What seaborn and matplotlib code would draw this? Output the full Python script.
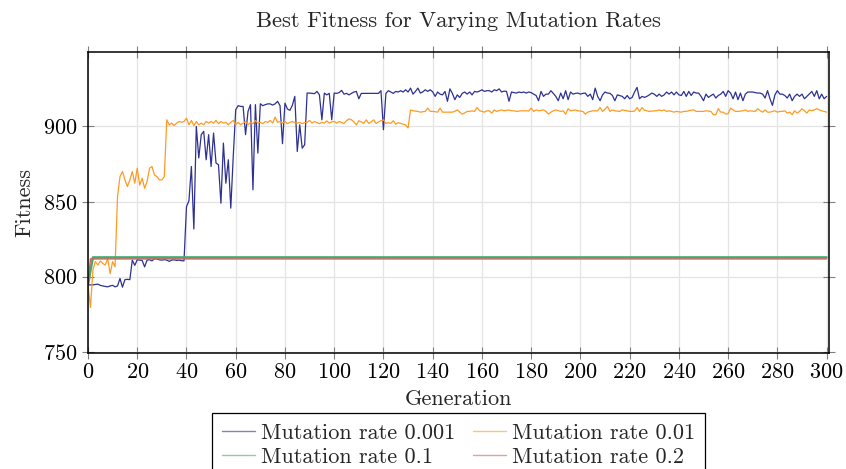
import numpy as np
import pandas as pd
import matplotlib
matplotlib.use("Agg")
import matplotlib.pyplot as plt
import seaborn as sns

# ---------------- data ----------------
series_names = ["Mutation rate 0.001", "Mutation rate 0.01",
                "Mutation rate 0.1", "Mutation rate 0.2"]
series_colors = ["#2e3192", "#ff9a22", "#3dae6e", "#cf5f5f"]

fit_0001 = [
    794.5, 794.5, 794.5, 794.8, 795.0, 794.2, 793.8, 793.5, 793.2, 793.8,
    794.2, 793.2, 793.8, 798.8, 793.0, 798.0, 798.2, 798.0, 811.0, 807.5,
    811.2, 811.0, 810.8, 806.5, 811.0, 811.3, 810.5, 812.0, 811.8, 811.2,
    811.0, 811.3, 811.0, 810.2, 811.0, 811.2, 810.8, 811.0, 810.6, 810.5,
    846.5, 850.5, 873.3, 831.7, 900.0, 879.0, 894.5, 896.7, 877.8, 894.5,
    873.3, 895.6, 875.6, 874.5, 848.9, 888.9, 862.2, 877.8, 845.6, 880.0,
    911.1, 913.8, 913.3, 913.3, 894.5, 910.0, 914.5, 857.8, 914.5, 882.2,
    915.1, 913.8, 914.5, 915.0, 915.0, 914.2, 915.0, 916.7, 913.8, 888.5,
    915.5, 911.6, 910.7, 914.0, 920.0, 883.3, 901.1, 885.5, 887.8, 922.2,
    922.2, 922.0, 921.8, 923.3, 921.0, 904.4, 922.2, 921.0, 922.0, 904.4,
    922.2, 922.0, 922.5, 924.0, 921.5, 922.0, 921.0, 922.0, 922.9, 923.3,
    918.4, 922.0, 922.0, 922.0, 922.0, 922.0, 922.0, 922.0, 922.0, 923.8,
    897.8, 922.0, 923.8, 922.9, 922.0, 923.3, 922.9, 923.8, 922.9, 924.4,
    922.9, 925.5, 921.5, 923.3, 925.5, 922.2, 923.0, 924.4, 923.3, 924.4,
    923.0, 920.0, 922.9, 921.5, 921.0, 923.3, 916.7, 925.0, 922.0, 917.8,
    921.0, 919.3, 922.0, 922.9, 921.5, 922.9, 921.0, 923.3, 922.9, 923.5,
    924.4, 923.3, 923.8, 923.8, 922.9, 924.4, 923.8, 925.0, 922.9, 923.5,
    923.3, 916.7, 922.9, 922.5, 922.2, 922.9, 922.5, 922.9, 922.2, 922.9,
    922.5, 921.5, 920.6, 917.1, 923.3, 920.0, 921.5, 921.5, 923.8, 922.0,
    920.0, 917.1, 922.2, 918.4, 923.8, 917.8, 922.9, 921.5, 922.0, 922.2,
    921.5, 922.0, 922.2, 920.0, 921.5, 917.8, 925.5, 920.0, 917.1, 921.0,
    922.9, 922.2, 922.0, 920.6, 917.1, 921.0, 920.5, 920.0, 918.4, 920.6,
    918.4, 919.3, 922.9, 926.0, 918.4, 920.0, 919.3, 920.0, 921.0, 922.2,
    921.5, 920.0, 921.5, 920.0, 921.0, 922.9, 921.5, 922.9, 921.0, 922.9,
    921.0, 920.6, 923.3, 920.0, 923.3, 920.6, 922.9, 922.2, 922.2, 920.0,
    917.1, 921.5, 919.3, 920.5, 921.5, 918.9, 920.6, 921.5, 923.3, 920.0,
    923.8, 922.2, 918.4, 922.9, 917.8, 922.2, 917.1, 921.5, 922.9, 922.9,
    922.9, 922.5, 922.2, 922.2, 921.5, 918.9, 923.8, 918.4, 914.0, 921.0,
    923.8, 921.5, 921.5, 920.6, 918.9, 921.5, 917.1, 920.0, 921.5, 920.0,
    921.5, 918.4, 920.0, 921.5, 923.3, 920.0, 923.8, 918.4, 921.5, 918.4,
    920.0,
]

fit_001 = [
    794.5, 779.5, 804.5, 810.0, 807.7, 810.4, 808.8, 807.7, 812.0, 802.0,
    810.0, 806.6, 853.3, 866.6, 870.0, 864.4, 860.0, 864.4, 870.0, 862.2,
    872.2, 861.0, 865.5, 858.8, 863.3, 872.2, 873.3, 867.7, 866.6, 864.4,
    864.4, 866.6, 904.4, 901.0, 902.2, 900.6, 902.2, 903.3, 902.8, 903.3,
    905.5, 901.1, 904.0, 900.5, 903.3, 901.1, 902.2, 901.1, 903.3, 902.2,
    903.3, 902.2, 904.0, 901.8, 903.3, 902.2, 902.7, 901.1, 902.7, 904.0,
    901.1, 902.7, 901.1, 902.2, 903.3, 901.1, 902.7, 901.8, 904.0, 902.2,
    902.7, 901.8, 903.3, 902.7, 904.0, 902.2, 906.2, 902.7, 903.3, 902.2,
    903.3, 901.8, 902.7, 903.3, 902.5, 902.2, 902.7, 901.8, 902.5, 902.7,
    904.0, 902.2, 903.3, 902.5, 901.8, 902.7, 902.2, 903.7, 902.2, 903.0,
    903.3, 902.2, 903.3, 902.5, 902.0, 903.8, 905.0, 904.4, 903.0, 901.0,
    903.8, 903.0, 902.0, 904.4, 902.0, 903.0, 904.4, 902.0, 903.0, 903.8,
    904.4, 902.0, 902.5, 902.0, 903.8, 901.5, 902.5, 902.0, 901.5, 901.0,
    899.0, 911.0, 910.4, 910.2, 910.0, 909.5, 909.8, 910.0, 912.2, 910.0,
    910.0, 909.8, 909.5, 912.2, 909.5, 909.5, 909.5, 909.5, 909.5, 910.0,
    911.0, 909.5, 908.2, 909.0, 910.0, 910.0, 910.4, 910.0, 912.6, 910.5,
    910.0, 909.5, 910.4, 910.4, 908.9, 911.0, 910.0, 910.5, 911.0, 910.4,
    910.7, 911.0, 910.4, 910.4, 910.0, 910.2, 910.4, 910.4, 910.4, 910.2,
    912.2, 910.0, 911.0, 910.4, 910.7, 911.0, 910.0, 908.2, 909.5, 910.4,
    911.0, 910.5, 910.0, 910.4, 908.2, 911.8, 910.4, 910.7, 911.0, 910.4,
    910.2, 910.0, 908.2, 909.5, 910.0, 910.4, 910.4, 910.4, 912.6, 910.0,
    911.5, 913.3, 910.0, 911.0, 910.4, 910.2, 910.0, 911.0, 910.7, 910.4,
    910.0, 910.0, 910.2, 912.6, 910.0, 912.6, 910.8, 910.4, 910.0, 910.2,
    910.4, 910.4, 911.0, 910.4, 911.0, 910.0, 910.4, 910.0, 909.5, 910.0,
    909.7, 909.5, 910.0, 910.0, 910.4, 910.8, 911.0, 910.0, 910.0, 910.0,
    910.0, 910.4, 910.2, 910.0, 907.8, 907.8, 911.8, 909.5, 909.5, 908.2,
    908.5, 912.2, 911.0, 910.0, 910.0, 910.2, 910.4, 911.0, 910.0, 910.4,
    910.2, 910.0, 911.8, 910.5, 909.5, 911.0, 909.5, 909.5, 910.0, 910.4,
    909.5, 910.0, 910.0, 910.4, 908.9, 909.5, 907.8, 910.4, 908.9, 910.0,
    911.8, 910.4, 908.9, 911.0, 910.4, 911.0, 911.8, 911.0, 910.4, 910.0,
    909.5,
]

fit_01 = [794.5, 804.0] + [812.8] * 299
fit_02 = [794.5] + [811.8] * 300

x_ticks = list(range(0, 301, 20))
y_ticks = [750, 800, 850, 900]

# ---------------- long-form table ----------------
frames = []
for name, vals in zip(series_names, [fit_0001, fit_001, fit_01, fit_02]):
    frames.append(pd.DataFrame({"Generation": np.arange(len(vals)),
                                "Fitness": vals, "Series": name}))
df = pd.concat(frames, ignore_index=True)

# ---------------- style ----------------
sns.set_theme(style="whitegrid")
plt.rcParams["font.family"] = ["cmr10", "DejaVu Serif"]
plt.rcParams["mathtext.fontset"] = "cm"
plt.rcParams["axes.formatter.use_mathtext"] = True
plt.rcParams["axes.unicode_minus"] = False

fig = plt.figure(figsize=(8.46, 4.69), dpi=100)
ax = fig.add_axes([0.104, 0.2484, 0.876, 0.6406])

widths = {series_names[0]: 0.9, series_names[1]: 0.9,
          series_names[2]: 1.8, series_names[3]: 1.0}
for name, color in zip(series_names, series_colors):
    sub = df[df["Series"] == name]
    sns.lineplot(data=sub, x="Generation", y="Fitness", ax=ax, color=color,
                 linewidth=widths[name], label=name, estimator=None)

ax.set_xlim(0, 301)
ax.set_ylim(749.5, 949.5)
ax.set_xticks(x_ticks)
ax.set_yticks(y_ticks)
ax.grid(True, color="#e4e4e4", linewidth=0.9)
ax.set_facecolor("white")
for s in ax.spines.values():
    s.set_color("black")
    s.set_linewidth(1.1)

ax.tick_params(axis="both", which="major", direction="inout", length=9,
               width=0.8, color="#808080", labelsize=16, pad=3,
               top=True, right=True, bottom=True, left=True,
               labeltop=False, labelright=False, labelcolor="black")

ax.set_title("Best Fitness for Varying Mutation Rates", fontsize=16.3, pad=18)
ax.set_xlabel("Generation", fontsize=16, labelpad=5)
ax.set_ylabel("Fitness", fontsize=16, labelpad=6)

# row-wise legend order (matplotlib fills columns first)
handles, labels = ax.get_legend_handles_labels()
order = [0, 2, 1, 3]
leg = ax.legend([handles[i] for i in order], [labels[i] for i in order],
                loc="upper center", bbox_to_anchor=(0.5, -0.165), ncol=2,
                fontsize=16, frameon=True, fancybox=False, framealpha=1,
                edgecolor="black", handlelength=1.5, handletextpad=0.25,
                columnspacing=0.8, borderpad=0.45, labelspacing=0.22)
leg.get_frame().set_linewidth(0.9)
for h in leg.get_lines():
    h.set_linewidth(1.0)
    h.set_alpha(0.6)

fig.savefig("out.png", dpi=100)
